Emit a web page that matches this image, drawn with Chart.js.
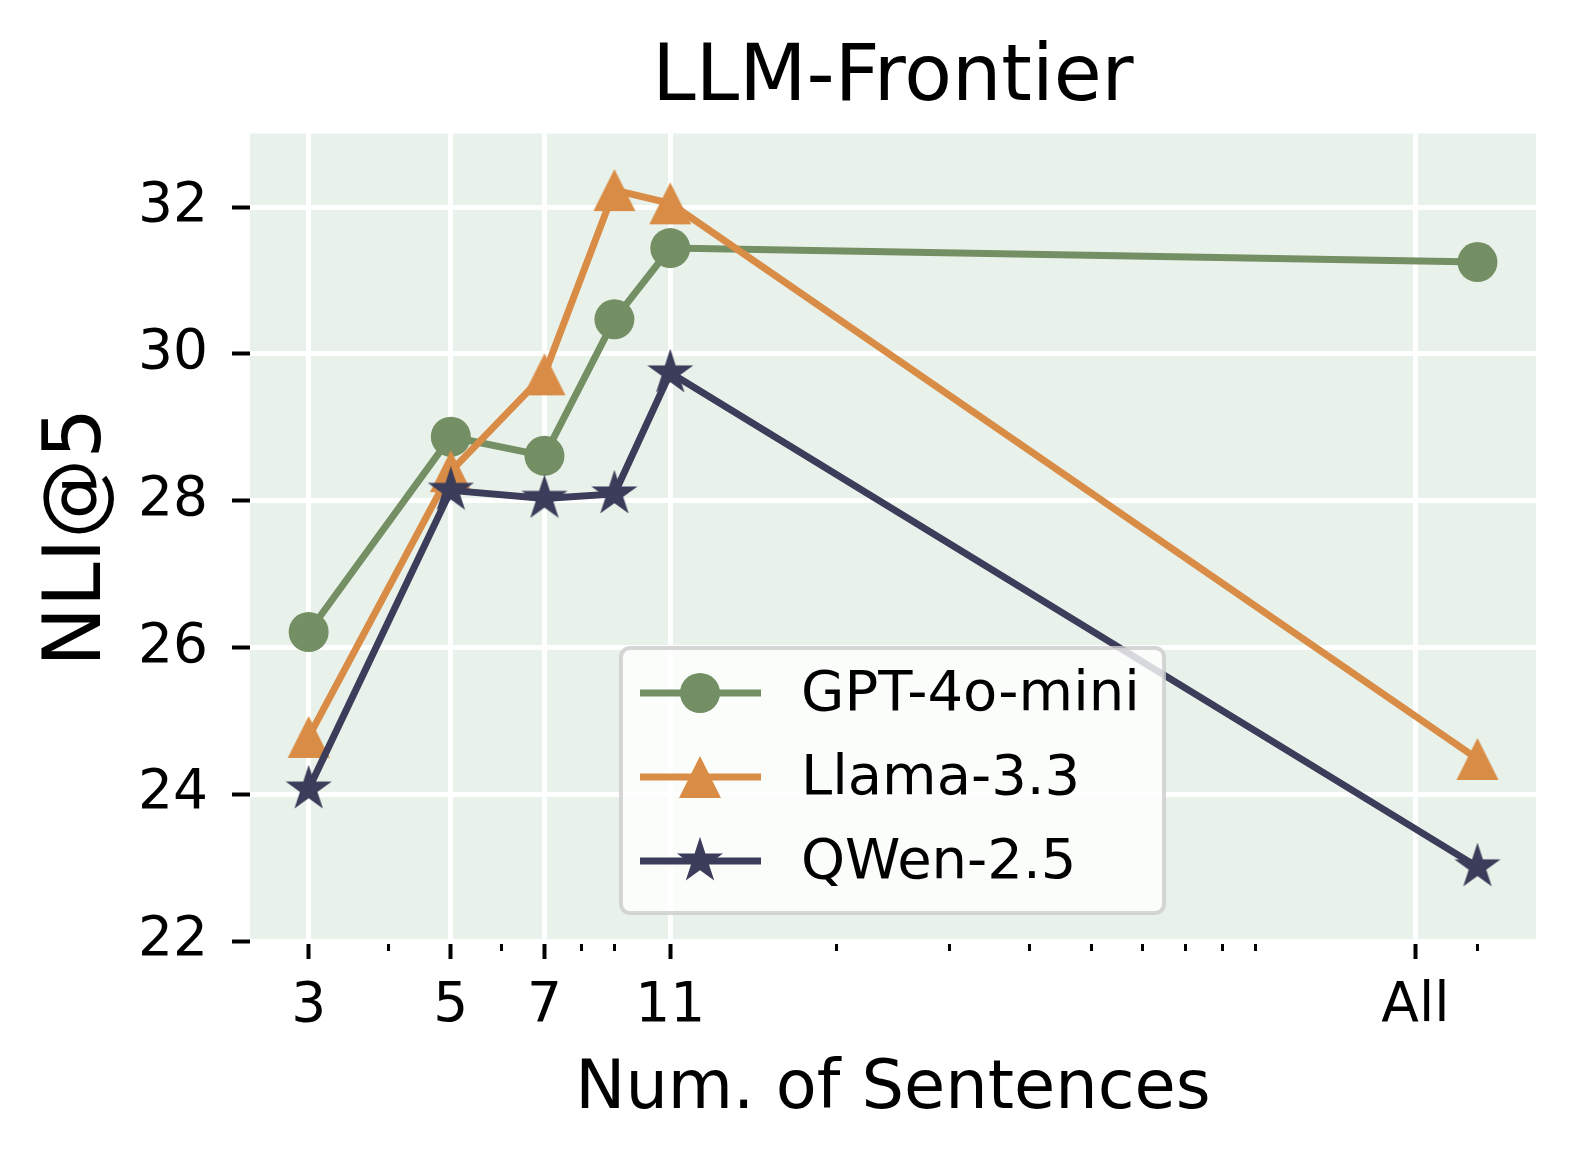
<!DOCTYPE html>
<html>
<head>
<meta charset="utf-8">
<script src="https://cdn.jsdelivr.net/npm/chart.js@4.4.1/dist/chart.umd.min.js"></script>
<style>
  html, body { margin: 0; padding: 0; background: #fff; }
  canvas { display: block; }
</style>
</head>
<body>
<canvas id="nli-chart" width="1576" height="1162"></canvas>
<script>
// values
const numSentences = [3, 5, 7, 9, 11, 200];
const gptMini = [26.21, 28.87, 28.61, 30.47, 31.44, 31.25];
const llama33 = [24.78, 28.40, 29.72, 32.23, 32.05, 24.48];
const qwen25  = [24.07, 28.14, 28.03, 28.09, 29.74, 23.01];

const xMajorTicks  = [3, 5, 7, 11, 160];
const xMajorLabels = ['3', '5', '7', '11', 'All'];
const xMinorTicks  = [4, 6, 8, 9, 20, 30, 40, 50, 60, 70, 80, 90, 200];
const yTicks = [22, 24, 26, 28, 30, 32];

const seriesNames = ['GPT-4o-mini', 'Llama-3.3', 'QWen-2.5'];

const GREEN = '#748f63';
const ORANGE = '#d98c46';
const NAVY = '#3b3d5a';
const FONT = "'DejaVu Sans', sans-serif";

Chart.defaults.font.family = FONT;
Chart.defaults.color = '#000';

// matplotlib-like filled markers
function triangleMarker(color, h) {
    let c = document.createElement('canvas');
    let s = Math.ceil(2 * h + 4);
    c.width = s; c.height = s;
    let g = c.getContext('2d');
    let m = s / 2;
    g.fillStyle = color;
    g.beginPath();
    g.moveTo(m, m - h);
    g.lineTo(m + h, m + h);
    g.lineTo(m - h, m + h);
    g.closePath();
    g.fill();
    return c;
}

function starMarker(color, r) {
    let c = document.createElement('canvas');
    let s = Math.ceil(2 * r + 6);
    c.width = s; c.height = s;
    let g = c.getContext('2d');
    let m = s / 2;
    let inner = r * 0.381966;
    g.fillStyle = color;
    g.strokeStyle = color;
    g.lineWidth = 2;
    g.lineJoin = 'miter';
    g.beginPath();
    for (let i = 0; i < 10; i++) {
        let rad = i % 2 === 0 ? r : inner;
        let a = -Math.PI / 2 + i * Math.PI / 5;
        let px = m + rad * Math.cos(a);
        let py = m + rad * Math.sin(a);
        if (i === 0) g.moveTo(px, py); else g.lineTo(px, py);
    }
    g.closePath();
    g.fill();
    g.stroke();
    return c;
}

const triImg = triangleMarker(ORANGE, 21);
const starImg = starMarker(NAVY, 21);

function toPoints(vals) {
    return numSentences.map((x, i) => ({x: x, y: vals[i]}));
}

function isMajor(ctx) {
    return ctx.tick && xMajorTicks.indexOf(ctx.tick.value) >= 0;
}

const panelBg = {
    id: 'panelBg',
    beforeDraw(chart) {
        let a = chart.chartArea;
        let ctx = chart.ctx;
        ctx.save();
        ctx.fillStyle = '#e9f2ea';
        ctx.fillRect(a.left, a.top, a.right - a.left, a.bottom - a.top);
        ctx.restore();
    }
};

// legend with line + marker handles, like matplotlib
const lineLegend = {
    id: 'lineLegend',
    afterDatasetsDraw(chart) {
        let ctx = chart.ctx;
        let box = {x: 621, y: 648, w: 543, h: 265};
        let rows = [693, 777, 861];
        let colors = [GREEN, ORANGE, NAVY];
        ctx.save();
        ctx.beginPath();
        ctx.roundRect(box.x, box.y, box.w, box.h, 9);
        ctx.fillStyle = 'rgba(255,255,255,0.8)';
        ctx.fill();
        ctx.lineWidth = 4;
        ctx.strokeStyle = 'rgba(204,204,204,0.8)';
        ctx.stroke();

        rows.forEach(function (y, i) {
            ctx.beginPath();
            ctx.moveTo(640, y);
            ctx.lineTo(761, y);
            ctx.lineWidth = 7;
            ctx.strokeStyle = colors[i];
            ctx.stroke();
            if (i === 0) {
                ctx.beginPath();
                ctx.arc(700, y, 20, 0, Math.PI * 2);
                ctx.fillStyle = GREEN;
                ctx.fill();
            } else {
                let img = i === 1 ? triImg : starImg;
                ctx.drawImage(img, 700 - img.width / 2, y - img.height / 2);
            }
            ctx.fillStyle = '#000';
            ctx.font = '56px ' + FONT;
            ctx.textBaseline = 'middle';
            ctx.textAlign = 'left';
            ctx.fillText(seriesNames[i], 801, y + 2);
        });
        ctx.restore();
    }
};

new Chart(document.getElementById('nli-chart').getContext('2d'), {
    type: 'line',
    data: {
        datasets: [
            {
                label: seriesNames[0],
                data: toPoints(gptMini),
                borderColor: GREEN,
                backgroundColor: GREEN,
                borderWidth: 7,
                pointStyle: 'circle',
                pointRadius: 20,
                pointBorderWidth: 0,
                order: 3
            },
            {
                label: seriesNames[1],
                data: toPoints(llama33),
                borderColor: ORANGE,
                backgroundColor: ORANGE,
                borderWidth: 7,
                pointStyle: triImg,
                pointRadius: 20,
                order: 2
            },
            {
                label: seriesNames[2],
                data: toPoints(qwen25),
                borderColor: NAVY,
                backgroundColor: NAVY,
                borderWidth: 7,
                pointStyle: starImg,
                pointRadius: 20,
                order: 1
            }
        ]
    },
    options: {
        responsive: false,
        animation: false,
        events: [],
        layout: {
            padding: {left: 0, right: 40, top: 0, bottom: 0}
        },
        elements: {
            line: {tension: 0}
        },
        scales: {
            x: {
                type: 'logarithmic',
                position: 'bottom',
                min: 2.43,
                max: 246.8,
                bounds: 'data',
                afterBuildTicks: function (scale) {
                    let all = xMajorTicks.concat(xMinorTicks).sort((a, b) => a - b);
                    scale.ticks = all.map(v => ({value: v}));
                },
                afterFit: function (scale) {
                    scale.height = 221;
                },
                border: {display: false},
                grid: {
                    color: ctx => isMajor(ctx) ? '#ffffff' : 'rgba(0,0,0,0)',
                    lineWidth: 5,
                    tickColor: '#000',
                    tickLength: 18,
                    tickWidth: ctx => isMajor(ctx) ? 4 : 3,
                    tickBorderDash: ctx => isMajor(ctx) ? [] : [10, 40]
                },
                ticks: {
                    autoSkip: false,
                    maxRotation: 0,
                    padding: 15,
                    font: {size: 55},
                    color: '#000',
                    callback: function (value) {
                        let i = xMajorTicks.indexOf(value);
                        return i >= 0 ? xMajorLabels[i] : '';
                    }
                },
                title: {
                    display: true,
                    text: 'Num. of Sentences',
                    font: {size: 67},
                    color: '#000',
                    padding: {top: 0, bottom: 31}
                }
            },
            y: {
                type: 'linear',
                min: 22,
                max: 33,
                afterBuildTicks: function (scale) {
                    scale.ticks = yTicks.map(v => ({value: v}));
                },
                afterFit: function (scale) {
                    scale.width = 250;
                },
                border: {display: false},
                grid: {
                    color: '#ffffff',
                    lineWidth: 5,
                    tickColor: '#000',
                    tickLength: 18,
                    tickWidth: 4
                },
                ticks: {
                    padding: 24,
                    font: {size: 55},
                    color: '#000',
                    callback: v => String(v)
                },
                title: {
                    display: true,
                    text: 'NLI@5',
                    font: {size: 80},
                    color: '#000',
                    padding: {top: 31, bottom: 0}
                }
            }
        },
        plugins: {
            title: {
                display: true,
                text: 'LLM-Frontier',
                fullSize: false,
                font: {size: 78, weight: 'normal'},
                color: '#000',
                padding: {top: 33, bottom: 7}
            },
            legend: {display: false},
            tooltip: {enabled: false}
        }
    },
    plugins: [panelBg, lineLegend]
});
</script>
</body>
</html>
